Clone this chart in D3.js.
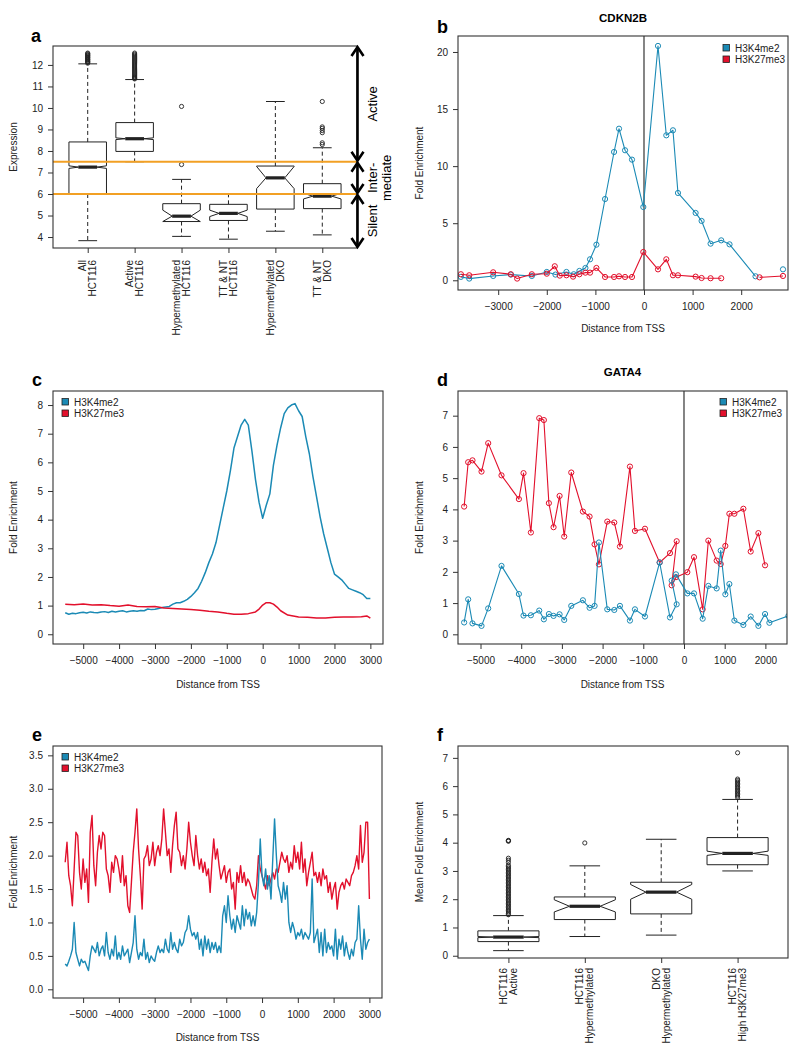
<!DOCTYPE html>
<html>
<head>
<meta charset="utf-8">
<script src="https://cdn.jsdelivr.net/npm/d3@7"></script>
<style>
  body { margin: 0; background: #fff; }
  svg { font-family: "Liberation Sans", Arial, sans-serif; }
</style>
</head>
<body>
<script>
// ---- data ----
const blue = "#1b8ab5", red = "#e2102c", orange = "#f2a024";
const seriesNames = ["H3K4me2", "H3K27me3"];

// panel a: expression boxplots
const aLabels = [["All", "HCT116"], ["Active", "HCT116"], ["Hypermethylated", "HCT116"],
                 ["TT & NT", "HCT116"], ["Hypermethylated", "DKO"], ["TT & NT", "DKO"]];
const aLow = [3.83, 7.5, 4.03, 3.9, 4.27, 4.1];
const aQ1 = [6.0, 7.98, 4.72, 4.77, 5.3, 5.32];
const aMed = [7.25, 8.57, 4.97, 5.1, 6.75, 5.9];
const aQ3 = [8.42, 9.32, 5.55, 5.52, 7.3, 6.48];
const aHigh = [12.05, 11.32, 6.68, 5.98, 10.3, 8.15];
const aNotchLo = [7.19, 8.53, 4.72, 4.95, 6.25, 5.77];
const aNotchHi = [7.31, 8.61, 5.25, 5.25, 7.28, 6.03];
const aOutliers = [
  [12.08, 12.12, 12.15, 12.18, 12.22, 12.25, 12.28, 12.32, 12.35, 12.38, 12.42, 12.45, 12.48, 12.52, 12.55],
  [11.35, 11.38, 11.42, 11.45, 11.5, 11.55, 11.6, 11.65, 11.7, 11.75, 11.8, 11.85, 11.9, 11.95, 12.0,
   12.05, 12.1, 12.15, 12.2, 12.25, 12.3, 12.35, 12.4, 12.45, 12.5, 12.55],
  [7.37, 10.07],
  [],
  [],
  [8.3, 8.38, 8.85, 8.95, 9.05, 9.12, 10.3]
];
const aThresholds = [7.5, 6];
const aStates = ["Active", ["Inter-", "mediate"], "Silent"];

// panel b: CDKN2B
const bBlueX = [-3767, -3596, -3103, -2740, -2308, -2000, -1822, -1596, -1445, -1329, -1205, -1110, -979, -801,
                -616, -514, -390, -247, -14, 288, 459, 596, 699, 1062, 1185, 1370, 1589, 1760, 2295, null, 2860];
const bBlueY = [0.3, 0.15, 0.38, 0.5, 0.38, 0.73, 0.5, 0.73, 0.53, 0.82, 1.08, 1.84, 3.12, 7.12,
                11.24, 13.28, 11.39, 10.57, 6.42, 20.53, 12.7, 13.14, 7.65, 5.9, 5.2, 3.21, 3.5, 3.15, 0.35, null, 0.96];
const bRedX = [-3767, -3596, -3103, -2740, -2610, -2308, -2000, -1836, -1733, -1596, -1459, -1329, -1205, -1110,
               -979, -801, -616, -514, -390, -247, -14, 288, 459, 596, 699, 1062, 1185, 1370, 1589, null, 2377, 2860];
const bRedY = [0.53, 0.44, 0.7, 0.53, 0.15, 0.53, 0.58, 1.23, 0.41, 0.44, 0.32, 0.53, 0.67, 0.67,
               1.08, 0.29, 0.29, 0.35, 0.29, 0.29, 2.48, 0.96, 1.84, 0.44, 0.44, 0.32, 0.2, 0.18, 0.18, null, 0.26, 0.38];

// panel c: average profile, all genes
const cBlueY = [0.75, 0.7, 0.73, 0.72, 0.75, 0.77, 0.74, 0.78, 0.76, 0.75,
                0.78, 0.79, 0.76, 0.8, 0.78, 0.8, 0.82, 0.78, 0.8, 0.82,
                0.8, 0.83, 0.82, 0.88, 0.86, 0.87, 0.9, 0.93, 0.95, 0.97,
                1.05, 1.1, 1.1, 1.15, 1.22, 1.32, 1.45, 1.6, 1.85, 2.15,
                2.5, 2.8, 3.2, 3.8, 4.4, 5.0, 5.7, 6.5, 6.9, 7.3,
                7.5, 7.3, 6.4, 5.4, 4.6, 4.05, 4.5, 4.9, 5.9, 6.6,
                7.2, 7.7, 7.9, 8.0, 8.05, 7.8, 7.6, 6.9, 6.3, 5.5,
                4.8, 4.1, 3.5, 3.0, 2.5, 2.1, 2.0, 1.9, 1.75, 1.6,
                1.55, 1.5, 1.45, 1.38, 1.25, 1.25];
const cRedX = [-5500, -5250, -5000, -4750, -4500, -4250, -4000, -3750, -3500, -3250, -3000, -2750, -2500, -2250,
               -2000, -1750, -1500, -1250, -1000, -800, -600, -400, -200, -100, 0, 100, 200, 300, 400, 500,
               700, 1000, 1250, 1500, 1750, 2000, 2250, 2500, 2750, 2900, 3000];
const cRedY = [1.05, 1.03, 1.06, 1.02, 1.03, 1.0, 0.98, 1.02, 0.97, 0.96, 0.97, 0.92, 0.9, 0.88,
               0.86, 0.84, 0.8, 0.78, 0.73, 0.7, 0.7, 0.72, 0.78, 0.88, 1.02, 1.1, 1.1, 1.05, 0.95, 0.82,
               0.67, 0.6, 0.59, 0.57, 0.57, 0.59, 0.6, 0.6, 0.61, 0.64, 0.56];

// panel d: GATA4
const dX = [-5402, -5303, -5197, -4975, -4811, -4484, -4057, -3943, -3762, -3557, -3443, -3320, -3205, -3057,
            -2943, -2770, -2484, -2320, -2197, -2090, -1885, -1713, -1574, -1328, -1205, -959, -598, -344,
            -180, -303, -197, 82, 246, 459, 598, 803, 902, 1016, 1115, 1238, 1459, 1639, 1828, 1992, 2098, 2566];
const dRedY = [4.09, 5.51, 5.57, 5.21, 6.12, 5.09, 4.33, 5.16, 3.26, 6.92, 6.86, 4.2, 3.43, 4.43,
               3.13, 5.18, 3.93, 3.77, 2.88, 2.24, 3.61, 3.58, 2.81, 5.37, 3.31, 3.38, 2.3, 2.6,
               2.98, 1.57, 1.83, 1.99, 2.47, 0.8, 3.0, 2.36, 2.25, 2.83, 3.86, 3.86, 4.02, 2.65, 3.24, 2.21, null, null];
const dBlueY = [0.38, 1.12, 0.35, 0.27, 0.83, 2.19, 1.29, 0.6, 0.61, 0.76, 0.48, 0.65, 0.59, 0.64,
                0.46, 0.91, 1.09, 0.85, 0.91, 2.94, 0.8, 0.78, 0.91, 0.44, 0.8, 0.57, 2.3, 0.54,
                0.96, 1.72, 1.92, 1.31, 1.31, 0.5, 1.55, 1.47, 2.68, 1.28, 1.61, 0.44, 0.3, 0.57, 0.27, 0.65, 0.37, 0.59];

// panel e: average profile, high H3K27me3 genes (50 bp windows)
const eRedY = [1.9, 2.2, 1.7, 1.55, 1.25, 1.8, 2.35, 2.3, 1.75, 1.5,
               1.95, 1.6, 1.8, 1.3, 2.35, 2.6, 1.85, 1.55, 2.05, 2.3,
               2.1, 2.35, 2.3, 1.8, 1.7, 1.45, 1.9, 1.75, 2.0, 1.95,
               1.8, 1.6, 2.0, 1.55, 1.7, 1.25, 1.15, 1.6, 2.05, 2.35,
               2.7, 2.1, 1.7, 1.2, 1.95, 2.0, 2.15, 1.85, 1.95, 2.2,
               1.85, 2.05, 2.15, 2.0, 2.25, 2.7, 2.35, 2.0, 2.1, 1.75,
               2.15, 2.45, 2.65, 2.1, 2.05, 1.85, 2.0, 1.8, 2.1, 2.5,
               2.2, 2.0, 1.85, 2.3, 2.0, 1.8, 1.95, 1.75, 1.9, 1.7,
               1.8, 1.45, 1.9, 2.25, 1.95, 2.1, 1.85, 1.65, 1.75, 1.85,
               1.6, 1.75, 1.8, 1.5, 1.6, 1.2, 1.75, 1.6, 1.85, 1.6,
               1.75, 1.55, 1.65, 1.6, 1.5, 1.4, 1.35, 1.55, 2.0, 1.8,
               1.7, 1.6, 1.5, 1.7, 1.55, 1.65, 1.75, 1.65, 1.8, 1.75,
               1.9, 2.05, 1.95, 1.9, 2.0, 1.75, 1.9, 1.8, 2.15, 1.9,
               2.05, 1.8, 2.2, 1.75, 1.95, 1.55, 1.75, 1.9, 2.05, 1.7,
               1.75, 1.6, 1.75, 1.55, 1.8, 1.65, 1.7, 1.45, 1.6, 1.35,
               1.5, 1.6, 1.2, 1.45, 1.55, 1.6, 1.5, 1.65, 1.6, 1.55,
               1.7, 1.75, 1.85, 2.0, 1.8, 2.45, 1.9, 2.05, 2.5, 2.5,
               1.35];
const eBlueY = [0.38, 0.35, 0.42, 0.5, 0.6, 1.0, 0.55, 0.45, 0.35, 0.45,
                0.4, 0.42, 0.35, 0.28, 0.5, 0.65, 0.6, 0.55, 0.7, 0.5,
                0.6, 0.65, 0.5, 0.85, 0.55, 0.45, 0.6, 0.5, 0.8, 0.45,
                0.55, 0.45, 0.65, 0.5, 0.55, 0.6, 0.4, 0.55, 0.7, 1.1,
                0.6, 0.45, 0.55, 0.5, 0.75, 0.45, 0.55, 0.4, 0.5, 0.45,
                0.42, 0.55, 0.65, 0.55, 0.6, 0.55, 0.75, 0.6, 0.55, 0.85,
                0.6, 0.7, 0.6, 0.55, 0.75, 0.65, 0.7, 0.85, 0.9, 1.1,
                0.9, 0.8, 0.85, 0.75, 0.85, 0.6, 0.75, 0.5, 0.8, 0.6,
                0.75, 0.55, 0.7, 0.6, 0.7, 0.55, 0.65, 0.55, 1.1, 1.25,
                1.0, 1.4, 1.1, 0.9, 1.05, 0.85, 1.1, 1.0, 0.9, 1.25,
                0.95, 1.2, 1.05, 1.15, 0.95, 1.1, 0.95, 1.15, 1.6, 2.25,
                1.7, 1.55, 1.8, 1.5, 1.7, 1.35, 1.95, 2.55, 2.0, 1.55,
                1.45, 1.3, 1.6, 1.35, 1.55, 1.0, 0.85, 1.0, 0.9, 0.75,
                0.85, 0.8, 0.9, 0.75, 0.85, 0.8, 0.75, 0.85, 1.65, 0.7,
                0.8, 0.9, 0.55, 0.85, 0.5, 0.9, 0.55, 0.7, 0.6, 0.65,
                0.5, 0.9, 0.45, 0.75, 0.6, 0.8, 0.5, 0.7, 0.55, 0.45,
                0.6, 0.5, 0.7, 0.75, 1.25, 0.75, 0.45, 0.9, 0.6, 0.7,
                0.75];

// panel f: mean fold enrichment boxplots
const fLabels = [["HCT116", "Active"], ["HCT116", "Hypermethylated"], ["DKO", "Hypermethylated"], ["HCT116", "High H3K27me3"]];
const fLow = [0.18, 0.68, 0.73, 3.0];
const fQ1 = [0.5, 1.28, 1.48, 3.22];
const fMed = [0.66, 1.75, 2.25, 3.62];
const fQ3 = [0.88, 2.08, 2.6, 4.18];
const fHigh = [1.42, 3.18, 4.12, 5.53];
const fNotchLo = [0.64, 1.55, 2.0, 3.55];
const fNotchHi = [0.68, 1.98, 2.52, 3.7];
const fOutliers = [
  [1.45, 1.5, 1.55, 1.6, 1.65, 1.7, 1.75, 1.8, 1.85, 1.9, 1.95, 2.0, 2.05, 2.1, 2.15, 2.2, 2.25, 2.3, 2.35, 2.4,
   2.45, 2.5, 2.55, 2.6, 2.65, 2.7, 2.75, 2.8, 2.85, 2.9, 2.95, 3.0, 3.05, 3.1, 3.15, 3.2, 3.3, 3.38, 3.45, 4.05, 4.07, 4.08],
  [3.99],
  [],
  [5.6, 5.65, 5.7, 5.75, 5.8, 5.85, 5.9, 5.95, 6.0, 6.05, 6.1, 6.15, 6.2, 6.25, 7.18]
];

const tssTicksB = [-3000, -2000, -1000, 0, 1000, 2000];
const tssTicksLong = [-5000, -4000, -3000, -2000, -1000, 0, 1000, 2000, 3000];
const tssTicksD = [-5000, -4000, -3000, -2000, -1000, 0, 1000, 2000];

// ---- drawing ----
const svg = d3.select("body").append("svg")
  .attr("width", 800)
  .attr("height", 1050);

// plain integers with a real minus sign, no thousands separator
const plain = d => (d < 0 ? "\u2212" : "") + Math.abs(d);

function makePanel(l, r, t, b, xd, yd) {
  let p = {l: l, r: r, t: t, b: b};
  p.x = d3.scaleLinear().domain(xd).range([l, r]);
  p.y = d3.scaleLinear().domain(yd).range([b, t]);
  p.g = svg.append("g");
  return p;
}

function frame(p) {
  p.g.append("rect")
    .attr("x", p.l).attr("y", p.t)
    .attr("width", p.r - p.l).attr("height", p.b - p.t)
    .attr("fill", "none")
    .attr("stroke", "#333")
    .attr("stroke-width", 1.1);
}

function styleAxis(g) {
  g.select(".domain").remove();
  g.selectAll(".tick line").attr("stroke", "#333");
  g.selectAll(".tick text").attr("fill", "#222").style("font-size", "10px");
}

function yAxis(p, ticks, fmt) {
  p.g.append("g")
    .attr("transform", "translate(" + p.l + ",0)")
    .call(d3.axisLeft(p.y).tickValues(ticks).tickSize(5).tickPadding(5).tickFormat(fmt || plain))
    .call(styleAxis);
}

function xAxis(p, ticks, showLabels) {
  let ax = d3.axisBottom(p.x).tickValues(ticks).tickSize(5).tickPadding(8).tickFormat(plain);
  if (!showLabels) ax.tickFormat("");
  p.g.append("g")
    .attr("transform", "translate(0," + p.b + ")")
    .call(ax)
    .call(styleAxis);
}

function yTitle(p, x, text) {
  p.g.append("text")
    .attr("transform", "translate(" + x + "," + (p.t + p.b) / 2 + ") rotate(-90)")
    .attr("text-anchor", "middle")
    .style("font-size", "10px")
    .attr("fill", "#222")
    .text(text);
}

function xTitle(p, y, text) {
  p.g.append("text")
    .attr("x", (p.l + p.r) / 2)
    .attr("y", y)
    .attr("text-anchor", "middle")
    .style("font-size", "10px")
    .attr("fill", "#222")
    .text(text);
}

function letter(x, y, t) {
  svg.append("text")
    .attr("x", x).attr("y", y)
    .style("font-size", "18px")
    .style("font-weight", "bold")
    .text(t);
}

function title(p, y, t) {
  p.g.append("text")
    .attr("x", (p.l + p.r) / 2).attr("y", y)
    .attr("text-anchor", "middle")
    .style("font-size", "11.5px")
    .style("font-weight", "bold")
    .text(t);
}

function legend(p, x0, y0) {
  let lg = p.g.append("g");
  [blue, red].forEach((c, i) => {
    lg.append("rect")
      .attr("x", x0).attr("y", y0 + i * 11.5 - 3.5)
      .attr("width", 6.5).attr("height", 6.5)
      .attr("fill", c)
      .attr("stroke", "#222")
      .attr("stroke-width", 0.8);
    lg.append("text")
      .attr("x", x0 + 12).attr("y", y0 + i * 11.5 + 3.7)
      .style("font-size", "10px")
      .attr("fill", "#222")
      .text(seriesNames[i]);
  });
}

function clip(p, id) {
  svg.append("clipPath").attr("id", id)
    .append("rect")
    .attr("x", p.l).attr("y", p.t)
    .attr("width", p.r - p.l).attr("height", p.b - p.t);
  return p.g.append("g").attr("clip-path", "url(#" + id + ")");
}

function profile(layer, p, xs, ys, color, width, points) {
  let pts = xs.map((x, i) => [x, ys[i]]);
  let line = d3.line()
    .defined(d => d[0] != null && d[1] != null)
    .x(d => p.x(d[0]))
    .y(d => p.y(d[1]));
  layer.append("path")
    .datum(pts)
    .attr("d", line)
    .attr("fill", "none")
    .attr("stroke", color)
    .attr("stroke-width", width)
    .attr("stroke-linejoin", "round");
  if (points) {
    layer.selectAll(null)
      .data(pts.filter(d => d[0] != null && d[1] != null))
      .join("circle")
      .attr("cx", d => p.x(d[0]))
      .attr("cy", d => p.y(d[1]))
      .attr("r", 2.6)
      .attr("fill", "none")
      .attr("stroke", color)
      .attr("stroke-width", 1);
  }
}

function boxes(p, low, q1, med, q3, high, nlo, nhi, outs) {
  let w = p.x(0.4) - p.x(0);
  med.forEach((m, i) => {
    let cx = p.x(i + 1), y = p.y;
    let poly = [[cx - w, y(q1[i])], [cx - w, y(nlo[i])], [cx - w / 2, y(m)], [cx - w, y(nhi[i])], [cx - w, y(q3[i])],
                [cx + w, y(q3[i])], [cx + w, y(nhi[i])], [cx + w / 2, y(m)], [cx + w, y(nlo[i])], [cx + w, y(q1[i])]];
    let g = p.g.append("g").attr("stroke", "#222").attr("fill", "none");
    g.append("line").attr("x1", cx).attr("x2", cx).attr("y1", y(q3[i])).attr("y2", y(high[i]))
      .attr("stroke-dasharray", "4,3");
    g.append("line").attr("x1", cx).attr("x2", cx).attr("y1", y(q1[i])).attr("y2", y(low[i]))
      .attr("stroke-dasharray", "4,3");
    g.append("line").attr("x1", cx - w / 2).attr("x2", cx + w / 2).attr("y1", y(high[i])).attr("y2", y(high[i]));
    g.append("line").attr("x1", cx - w / 2).attr("x2", cx + w / 2).attr("y1", y(low[i])).attr("y2", y(low[i]));
    g.append("polygon").attr("points", poly.map(d => d.join(",")).join(" ")).attr("fill", "#fff");
    g.append("line").attr("x1", cx - w / 2).attr("x2", cx + w / 2).attr("y1", y(m)).attr("y2", y(m))
      .attr("stroke-width", 3.2);
    g.selectAll("circle")
      .data(outs[i])
      .join("circle")
      .attr("cx", cx).attr("cy", d => y(d))
      .attr("r", 2.1)
      .attr("stroke-width", 0.9);
  });
}

function catLabels(p, labels, top) {
  labels.forEach((lab, i) => {
    let cx = p.x(i + 1);
    lab.forEach((t, j) => {
      p.g.append("text")
        .attr("transform", "translate(" + (cx - 1.5 + j * 10) + "," + top + ") rotate(-90)")
        .attr("text-anchor", "end")
        .style("font-size", "10px")
        .attr("fill", "#222")
        .text(t);
    });
  });
}

// ---- panel a ----
let pa = makePanel(53, 357, 46, 248, [0.26, 6.74], [3.49, 12.88]);
boxes(pa, aLow, aQ1, aMed, aQ3, aHigh, aNotchLo, aNotchHi, aOutliers);
aThresholds.forEach(v => {
  pa.g.append("line")
    .attr("x1", pa.l).attr("x2", pa.r)
    .attr("y1", pa.y(v)).attr("y2", pa.y(v))
    .attr("stroke", orange)
    .attr("stroke-width", 2);
});
frame(pa);
yAxis(pa, d3.range(4, 13));
xAxis(pa, d3.range(1, 7), false);
catLabels(pa, aLabels, 260);
yTitle(pa, 17, "Expression");
letter(31, 42, "a");

// state arrows on the right edge
let bounds = [pa.y.domain()[1], aThresholds[0], aThresholds[1], pa.y.domain()[0]];
let ax = pa.r + 0.5;
aStates.forEach((s, i) => {
  let y1 = pa.y(bounds[i]), y2 = pa.y(bounds[i + 1]);
  let g = pa.g.append("g").attr("stroke", "#000").attr("fill", "none")
    .attr("stroke-width", 2.6).attr("stroke-linejoin", "miter");
  g.append("line").attr("x1", ax).attr("x2", ax).attr("y1", y1 + 1).attr("y2", y2 - 1);
  g.append("polyline").attr("points", [[ax - 6, y1 + 10], [ax, y1 + 1], [ax + 6, y1 + 10]].join(" "));
  g.append("polyline").attr("points", [[ax - 6, y2 - 10], [ax, y2 - 1], [ax + 6, y2 - 10]].join(" "));
  let lines = Array.isArray(s) ? s : [s];
  lines.forEach((t, j) => {
    pa.g.append("text")
      .attr("transform", "translate(" + (377 + j * 14) + "," + (y1 + y2) / 2 + ") rotate(-90)")
      .attr("text-anchor", "middle")
      .style("font-size", "13px")
      .text(t);
  });
});

// ---- panel b ----
let pb = makePanel(458, 788, 36, 290, [-3827, 2963], [-0.85, 21.4]);
let lb = clip(pb, "clipb");
lb.append("line")
  .attr("x1", pb.x(0)).attr("x2", pb.x(0)).attr("y1", pb.t).attr("y2", pb.b)
  .attr("stroke", "#444").attr("stroke-width", 1.3);
profile(lb, pb, bBlueX, bBlueY, blue, 1.1, true);
profile(lb, pb, bRedX, bRedY, red, 1.1, true);
frame(pb);
yAxis(pb, [0, 5, 10, 15, 20]);
xAxis(pb, tssTicksB, true);
xTitle(pb, 332, "Distance from TSS");
yTitle(pb, 423, "Fold Enrichment");
title(pb, 22, "CDKN2B");
legend(pb, 723, 48);
letter(437, 33, "b");

// ---- panel c ----
let pc = makePanel(53, 383, 391, 644, [-5841, 3352], [-0.34, 8.49]);
let lc = clip(pc, "clipc");
profile(lc, pc, d3.range(-5500, 3001, 100), cBlueY, blue, 1.5, false);
profile(lc, pc, cRedX, cRedY, red, 1.5, false);
frame(pc);
yAxis(pc, d3.range(0, 9));
xAxis(pc, tssTicksLong, true);
xTitle(pc, 688, "Distance from TSS");
yTitle(pc, 17, "Fold Enrichment");
legend(pc, 62, 402);
letter(32, 386, "c");

// ---- panel d ----
let pd = makePanel(458, 787, 391, 644, [-5553, 2531], [-0.31, 7.79]);
let ld = clip(pd, "clipd");
ld.append("line")
  .attr("x1", pd.x(0)).attr("x2", pd.x(0)).attr("y1", pd.t).attr("y2", pd.b)
  .attr("stroke", "#333").attr("stroke-width", 1.2);
profile(ld, pd, dX, dRedY, red, 1.1, true);
profile(ld, pd, dX, dBlueY, blue, 1.1, true);
frame(pd);
yAxis(pd, d3.range(0, 8));
xAxis(pd, tssTicksD, true);
xTitle(pd, 688, "Distance from TSS");
yTitle(pd, 423, "Fold Enrichment");
title(pd, 376, "GATA4");
legend(pd, 720, 402);
letter(437, 386, "d");

// ---- panel e ----
let pe = makePanel(53, 382, 746, 998, [-5841, 3352], [-0.13, 3.64]);
let le = clip(pe, "clipe");
let eGrid = d3.range(-5500, 3001, 50);
profile(le, pe, eGrid, eRedY, red, 1.4, false);
profile(le, pe, eGrid, eBlueY, blue, 1.4, false);
frame(pe);
yAxis(pe, d3.range(0, 3.51, 0.5), d3.format(".1f"));
xAxis(pe, tssTicksLong, true);
xTitle(pe, 1041, "Distance from TSS");
yTitle(pe, 17, "Fold Enrichment");
legend(pe, 62, 757);
letter(32, 741, "e");

// ---- panel f ----
let pf = makePanel(458, 788, 746, 958, [0.34, 4.66], [-0.08, 7.42]);
boxes(pf, fLow, fQ1, fMed, fQ3, fHigh, fNotchLo, fNotchHi, fOutliers);
frame(pf);
yAxis(pf, d3.range(0, 8));
xAxis(pf, d3.range(1, 5), false);
catLabels(pf, fLabels, 968);
yTitle(pf, 423, "Mean Fold Enrichment");
letter(437, 741, "f");
</script>
</body>
</html>
